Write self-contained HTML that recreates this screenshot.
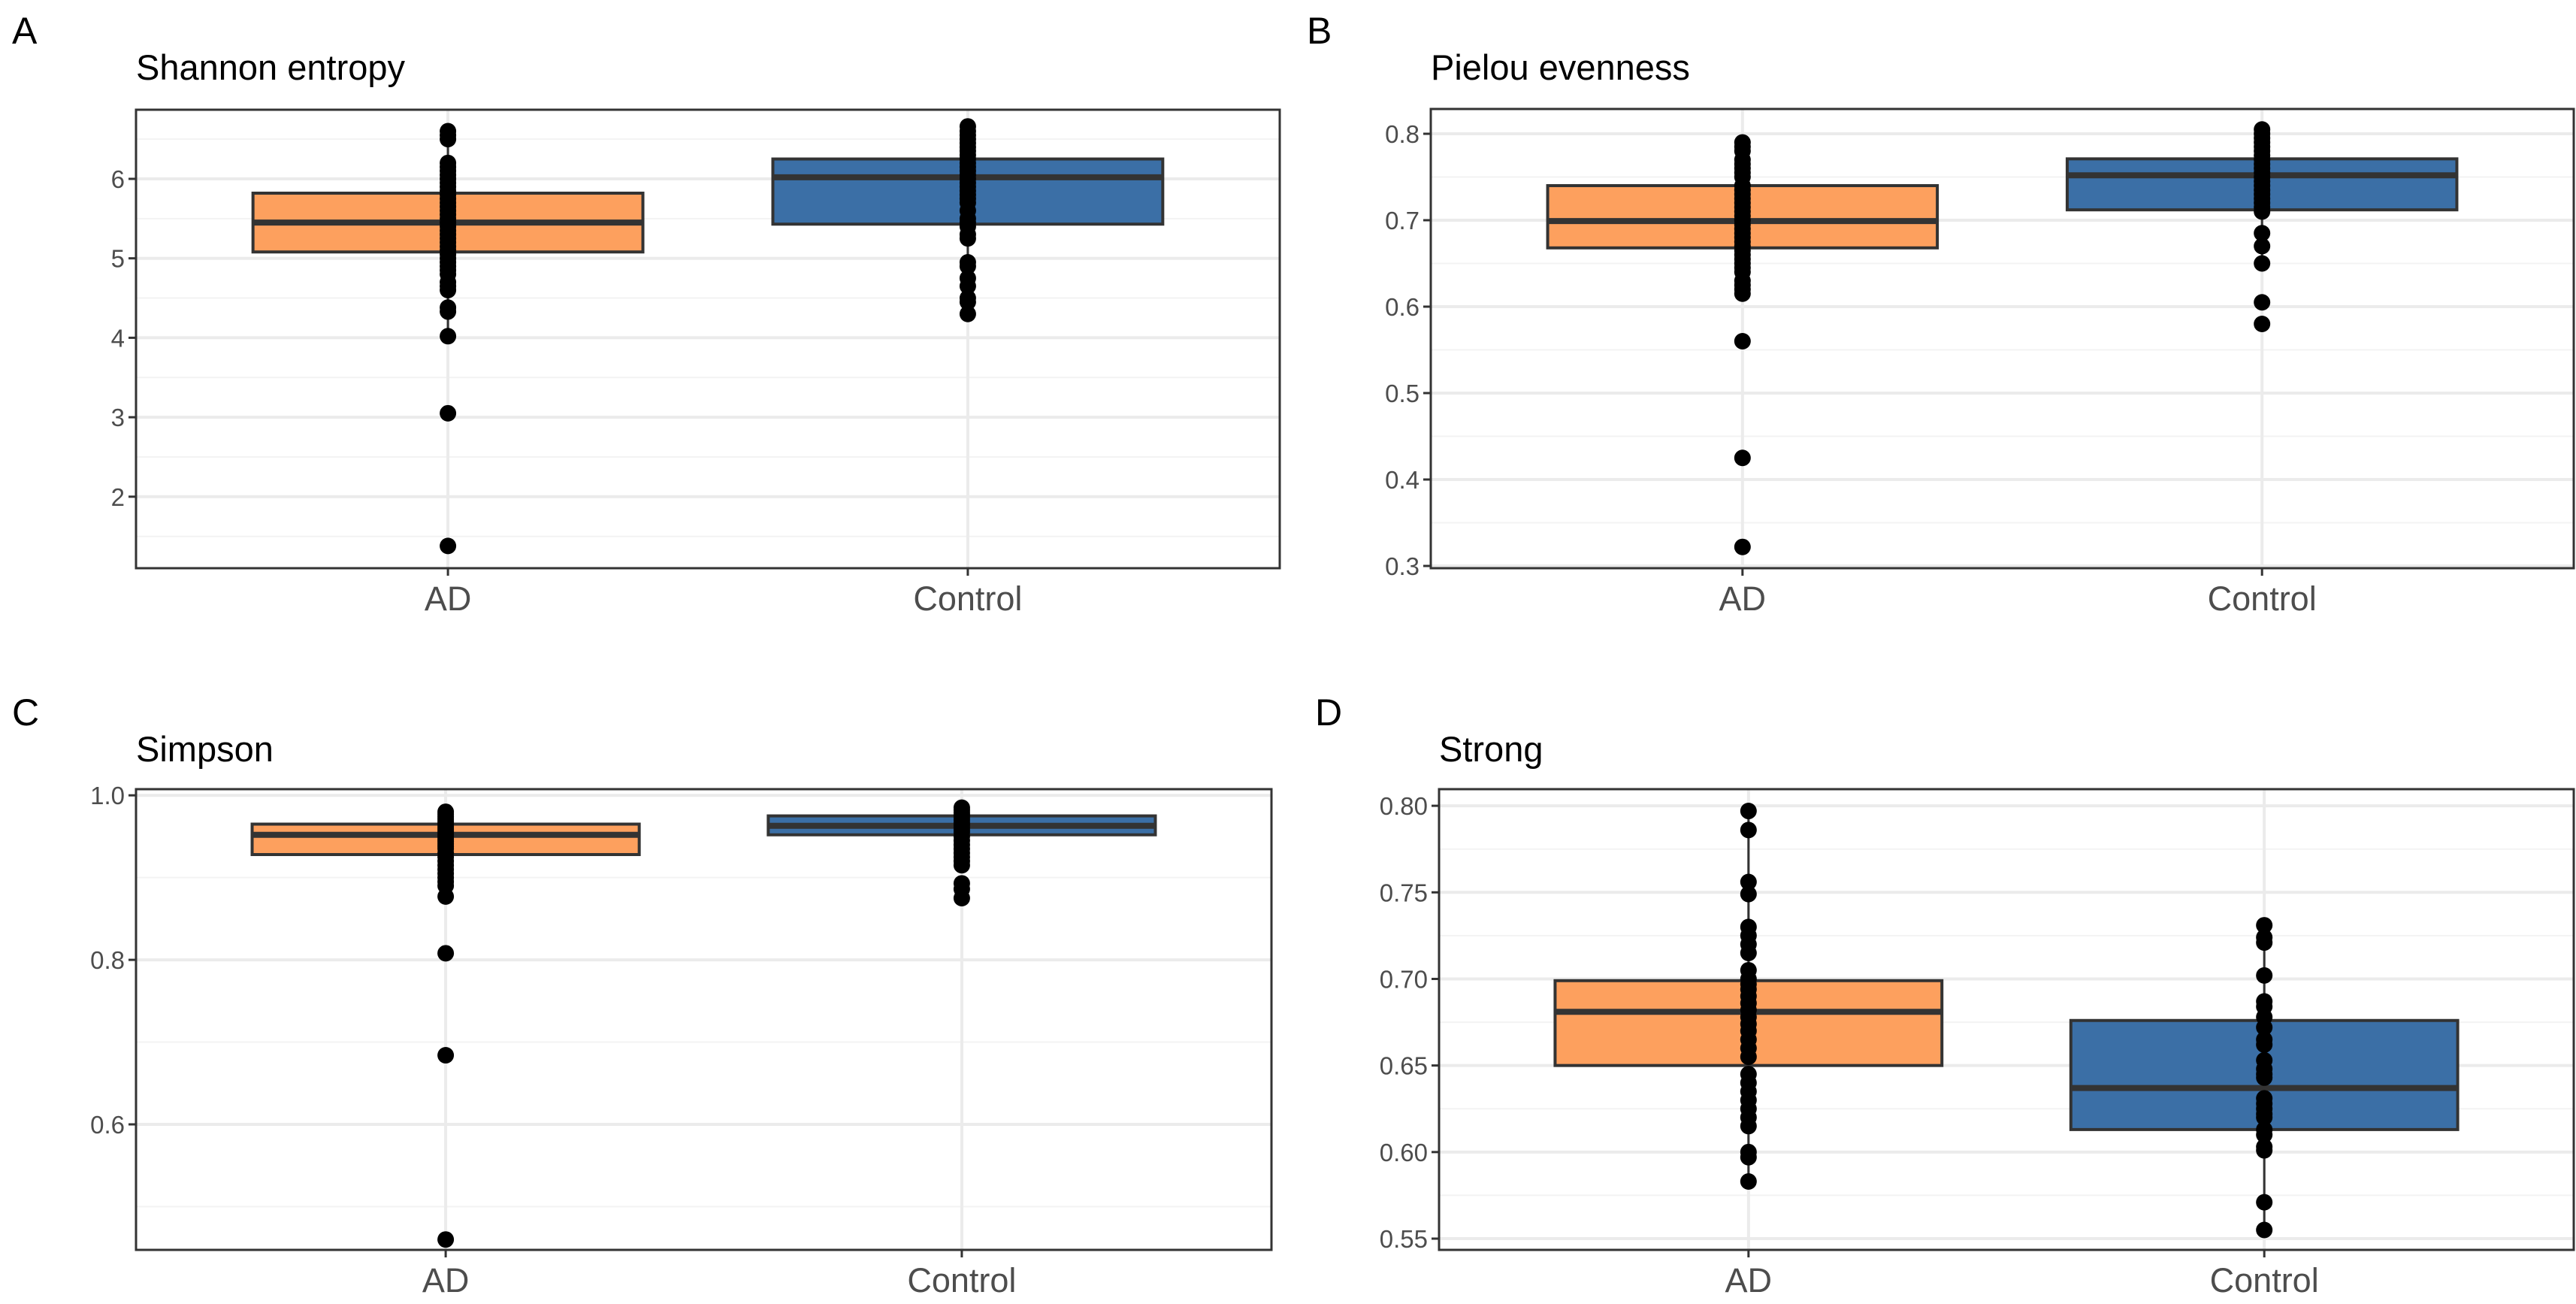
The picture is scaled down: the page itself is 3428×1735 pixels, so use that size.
<!DOCTYPE html>
<html><head><meta charset="utf-8">
<style>
html,body{margin:0;padding:0;background:#fff;}
svg{display:block;font-family:"Liberation Sans",Arial,sans-serif;}
</style></head>
<body>
<svg id="fig" width="3428" height="1735" viewBox="0 0 3428 1735"></svg>
<script>
// ---- data ----
const categories = ["AD","Control"];
// Panel A: Shannon entropy
const aTicks = [2,3,4,5,6];
const aBoxAD = [4.02,5.08,5.45,5.82,6.6];
const aBoxCtrl = [4.3,5.43,6.02,6.25,6.66];
const aPtsAD = [6.6,6.55,6.5,6.2,6.15,6.1,6.05,6.0,5.95,5.9,5.85,5.8,5.75,5.7,5.65,5.6,5.55,5.5,5.45,5.4,5.35,5.3,5.25,5.2,5.15,5.1,5.05,5.0,4.95,4.9,4.85,4.8,4.7,4.65,4.6,4.38,4.33,4.02,3.05,1.38];
const aPtsCtrl = [6.66,6.6,6.55,6.5,6.45,6.4,6.35,6.3,6.25,6.2,6.15,6.1,6.05,6.0,5.95,5.9,5.85,5.8,5.75,5.7,5.6,5.5,5.45,5.4,5.3,5.25,4.95,4.9,4.75,4.65,4.5,4.45,4.3];
// Panel B: Pielou evenness
const bTicks = [0.3,0.4,0.5,0.6,0.7,0.8];
const bBoxAD = [0.615,0.668,0.699,0.740,0.79];
const bBoxCtrl = [0.65,0.712,0.752,0.771,0.805];
const bPtsAD = [0.79,0.785,0.78,0.77,0.765,0.76,0.755,0.75,0.74,0.735,0.73,0.725,0.72,0.715,0.71,0.705,0.70,0.695,0.69,0.685,0.68,0.675,0.67,0.665,0.66,0.655,0.65,0.645,0.64,0.63,0.625,0.62,0.615,0.56,0.425,0.322];
const bPtsCtrl = [0.805,0.8,0.795,0.79,0.785,0.78,0.775,0.77,0.765,0.76,0.755,0.75,0.745,0.74,0.735,0.73,0.725,0.72,0.715,0.71,0.685,0.67,0.65,0.605,0.58];
// Panel C: Simpson
const cTicks = [0.6,0.8,1.0];
const cBoxAD = [0.877,0.928,0.952,0.965,0.98];
const cBoxCtrl = [0.915,0.952,0.963,0.975,0.985];
const cPtsAD = [0.98,0.977,0.974,0.971,0.968,0.965,0.962,0.959,0.956,0.953,0.95,0.947,0.944,0.941,0.938,0.935,0.93,0.925,0.92,0.915,0.91,0.905,0.9,0.895,0.89,0.877,0.808,0.684,0.46];
const cPtsCtrl = [0.985,0.982,0.979,0.976,0.973,0.97,0.967,0.964,0.961,0.958,0.955,0.95,0.945,0.94,0.935,0.93,0.925,0.92,0.915,0.893,0.886,0.875];
// Panel D: Strong
const dTicks = [0.55,0.60,0.65,0.70,0.75,0.80];
const dBoxAD = [0.583,0.650,0.681,0.699,0.797];
const dBoxCtrl = [0.555,0.613,0.637,0.676,0.731];
const dPtsAD = [0.797,0.786,0.756,0.749,0.73,0.725,0.72,0.715,0.705,0.70,0.697,0.694,0.69,0.686,0.682,0.678,0.674,0.67,0.665,0.66,0.655,0.645,0.64,0.635,0.63,0.625,0.62,0.615,0.60,0.597,0.583];
const dPtsCtrl = [0.731,0.724,0.721,0.702,0.687,0.684,0.678,0.672,0.665,0.662,0.653,0.648,0.645,0.643,0.631,0.628,0.625,0.622,0.62,0.613,0.61,0.603,0.601,0.571,0.555];

// ---- layout ----
const panels = [
 {id:"a",letter:"A",title:"Shannon entropy",L:181,R:1703,T:146,B:756,vmin:1.10,vmax:6.87,dec:0,ticks:aTicks,box:[aBoxAD,aBoxCtrl],pts:[aPtsAD,aPtsCtrl],ly:58,ty:106,xl:812},
 {id:"b",letter:"B",title:"Pielou evenness",L:1904,R:3425,T:145,B:756,vmin:0.2974,vmax:0.8287,dec:1,ticks:bTicks,box:[bBoxAD,bBoxCtrl],pts:[bPtsAD,bPtsCtrl],ly:58,ty:106,xl:812},
 {id:"c",letter:"C",title:"Simpson",L:181,R:1692,T:1050,B:1663,vmin:0.4474,vmax:1.0075,dec:1,ticks:cTicks,box:[cBoxAD,cBoxCtrl],pts:[cPtsAD,cPtsCtrl],ly:965,ty:1013,xl:1719},
 {id:"d",letter:"D",title:"Strong",L:1915,R:3425,T:1050,B:1663,vmin:0.5435,vmax:0.8096,dec:2,ticks:dTicks,box:[dBoxAD,dBoxCtrl],pts:[dPtsAD,dPtsCtrl],ly:965,ty:1013,xl:1719}
];
const fills=["#FDA05E","#3B6FA6"];
const NS="http://www.w3.org/2000/svg";
const svg=document.getElementById("fig");
function mk(tag,attrs,parent){const e=document.createElementNS(NS,tag);for(const k in attrs)e.setAttribute(k,attrs[k]);(parent||svg).appendChild(e);return e;}

panels.forEach(p=>{
  const g=mk("g",{});
  
  
  const y=v=>p.B-(v-p.vmin)/(p.vmax-p.vmin)*(p.B-p.T);
  const W=p.R-p.L;
  const unit=W/2.2;
  const cx=i=>p.L+unit*(0.6+i);
  const lt=mk("text",{x:p.L-165,y:p.ly,"font-size":50,fill:"#000"},g);lt.textContent=p.letter;
  
  
  const tt=mk("text",{x:p.L,y:p.ty,"font-size":47,fill:"#000"},g);tt.textContent=p.title;
  
  
  for(let k=0;k<p.ticks.length+1;k++){
    const step=p.ticks[1]-p.ticks[0];
    const v=p.ticks[0]+step*(k-0.5);
    if(v>p.vmin&&v<p.vmax){const l=mk("line",{x1:p.L,x2:p.R,y1:y(v),y2:y(v),stroke:"#f3f3f3","stroke-width":2},g);
      
      }
  }
  p.ticks.forEach(v=>{
    const l=mk("line",{x1:p.L,x2:p.R,y1:y(v),y2:y(v),stroke:"#ebebeb","stroke-width":4},g);
    
    
    const tk=mk("line",{x1:p.L-10,x2:p.L,y1:y(v),y2:y(v),stroke:"#333","stroke-width":3},g);
    
    
    const t=mk("text",{x:p.L-15,y:y(v)+12,"font-size":33,fill:"#4d4d4d","text-anchor":"end"},g);
    t.textContent=v.toFixed(p.dec);
    
    
  });
  categories.forEach((c,i)=>{
    const l=mk("line",{x1:cx(i),x2:cx(i),y1:p.T,y2:p.B,stroke:"#ebebeb","stroke-width":4},g);
    
    
  });
  categories.forEach((c,i)=>{
    const b=p.box[i];const bw=unit*0.75;
    const wl=mk("line",{x1:cx(i),x2:cx(i),y1:y(b[0]),y2:y(b[4]),stroke:"#333","stroke-width":3},g);
    
    
    const r=mk("rect",{x:cx(i)-bw/2,y:y(b[3]),width:bw,height:y(b[1])-y(b[3]),fill:fills[i],stroke:"#333","stroke-width":4},g);
    
    
    const m=mk("line",{x1:cx(i)-bw/2,x2:cx(i)+bw/2,y1:y(b[2]),y2:y(b[2]),stroke:"#333","stroke-width":8},g);
    
    
    p.pts[i].forEach(v=>{
      const d=mk("circle",{cx:cx(i),cy:y(v),r:11,fill:"#000"},g);
      
      
    });
    const tk=mk("line",{x1:cx(i),x2:cx(i),y1:p.B,y2:p.B+10,stroke:"#333","stroke-width":3},g);
    
    
    const t=mk("text",{x:cx(i),y:p.xl,"font-size":45,fill:"#4d4d4d","text-anchor":"middle"},g);
    t.textContent=c;
    
    
  });
  const fr=mk("rect",{x:p.L,y:p.T,width:W,height:p.B-p.T,fill:"none",stroke:"#333","stroke-width":3},g);
  
  
});
</script>
</body></html>
